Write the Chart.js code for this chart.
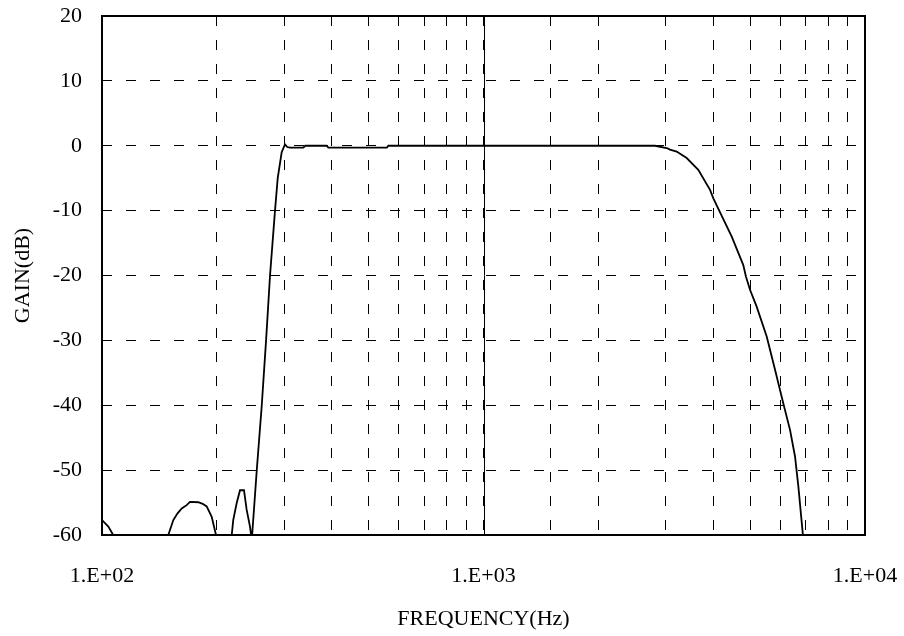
<!DOCTYPE html>
<html>
<head>
<meta charset="utf-8">
<script src="https://cdn.jsdelivr.net/npm/chart.js@4.4.1/dist/chart.umd.min.js"></script>
<style>
  html, body { margin: 0; padding: 0; background: #fff; }
</style>
</head>
<body>
<canvas id="gainChart" width="904" height="636"></canvas>
<script>
// frequency response (Hz, dB)
const frequencies = [
    100, 103.9, 107, 149.2,
    153.8, 157.6, 161.8, 166.7, 170.1, 178.8, 183.6, 188.1, 193.9, 199,
    218.8, 220.8, 225.4, 230, 235.6, 239.4, 244.3, 246,
    247.5, 254.5, 262.3, 269.2, 275.7, 284.1, 288.8, 295.8, 301.8, 306, 311,
    337, 341, 388, 392, 558, 563, 2815,
    3021, 3083, 3209, 3409, 3656, 3925, 4004, 4474, 4797, 4876, 4996,
    5200, 5525, 5808, 6106, 6360, 6555, 6688, 6867, 6880,
];
const gains = [
    -57.7, -58.7, -60, -60,
    -57.7, -56.7, -55.9, -55.4, -54.9, -54.95, -55.2, -55.6, -57.2, -60,
    -60, -57.7, -55.1, -53.1, -53.1, -56.1, -58.7, -60,
    -60, -50, -40, -30, -20, -10, -5, -1, 0.2, -0.2, -0.3,
    -0.3, 0, 0, -0.3, -0.3, 0, 0,
    -0.35, -0.6, -0.9, -1.9, -3.7, -6.8, -8.1, -14, -18.4, -20.2, -22.2,
    -24.8, -29.4, -34.5, -39.7, -43.8, -47.9, -52.5, -59.7, -60,
];
const decadeLabels = { 100: '1.E+02', 1000: '1.E+03', 10000: '1.E+04' };
const gainMin = -60;
const gainMax = 20;
const gainStep = 10;

const points = frequencies.map((f, i) => ({ x: f, y: gains[i] }));

const serif = "'Liberation Serif', 'Times New Roman', serif";

// solid line at 1 kHz and the black frame round the plot
const framePlugin = {
    id: 'frame',
    beforeDatasetsDraw(chart) {
        const { ctx, chartArea: area, scales } = chart;
        const x = Math.round(scales.x.getPixelForValue(1000)) + 0.5;
        ctx.save();
        ctx.strokeStyle = '#000';
        ctx.lineWidth = 1;
        ctx.beginPath();
        ctx.moveTo(x, area.top);
        ctx.lineTo(x, area.bottom);
        ctx.stroke();
        ctx.restore();
    },
    afterDraw(chart) {
        const { ctx, chartArea: area } = chart;
        ctx.save();
        ctx.strokeStyle = '#000';
        ctx.lineWidth = 2;
        ctx.strokeRect(area.left, area.top, area.right - area.left, area.bottom - area.top);
        ctx.restore();
    },
};

new Chart(document.getElementById('gainChart').getContext('2d'), {
    type: 'scatter',
    data: {
        datasets: [
            {
                label: 'GAIN',
                data: points,
                showLine: true,
                borderColor: '#000',
                borderWidth: 1.8,
                pointRadius: 0,
                tension: 0,
            },
        ],
    },
    options: {
        responsive: false,
        animation: false,
        devicePixelRatio: 1,
        layout: {
            padding: { top: 16, right: 39, bottom: 0, left: 0 },
        },
        plugins: {
            legend: { display: false },
            tooltip: { enabled: false },
        },
        scales: {
            x: {
                type: 'logarithmic',
                min: 100,
                max: 10000,
                afterFit(scale) {
                    scale.height = 101;
                    // labels overhang into the layout padding, no extra margin
                    scale.paddingLeft = 0;
                    scale.paddingRight = 0;
                },
                border: { display: false, dash: [10, 14] },
                grid: { color: '#000', lineWidth: 1, drawTicks: false },
                ticks: {
                    autoSkip: false,
                    maxRotation: 0,
                    padding: 28,
                    color: '#000',
                    font: { family: serif, size: 22 },
                    callback(value) {
                        return decadeLabels[value] ?? '';
                    },
                },
                title: {
                    display: true,
                    text: 'FREQUENCY(Hz)',
                    color: '#000',
                    font: { family: serif, size: 22, lineHeight: 1.2 },
                    padding: { top: 0, bottom: 4 },
                },
            },
            y: {
                min: gainMin,
                max: gainMax,
                afterFit(scale) {
                    scale.width = 102;
                    scale.paddingTop = 0;
                    scale.paddingBottom = 0;
                },
                border: { display: false, dash: [10, 14] },
                grid: { color: '#000', lineWidth: 1, drawTicks: false },
                ticks: {
                    stepSize: gainStep,
                    padding: 20,
                    color: '#000',
                    font: { family: serif, size: 22 },
                },
                title: {
                    display: true,
                    text: 'GAIN(dB)',
                    color: '#000',
                    font: { family: serif, size: 22, lineHeight: 1.2 },
                    padding: { top: 10, bottom: 0 },
                },
            },
        },
    },
    plugins: [framePlugin],
});
</script>
</body>
</html>
